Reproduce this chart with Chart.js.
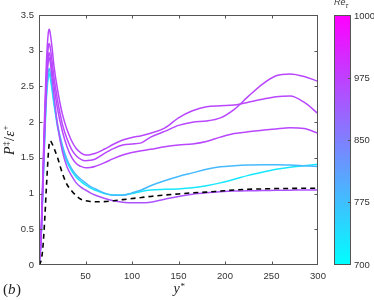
<!DOCTYPE html>
<html><head><meta charset="utf-8">
<script src="https://cdn.jsdelivr.net/npm/chart.js@4"></script>
<style>html,body{margin:0;padding:0;background:#fff}#wrap{width:374px;height:300px;position:relative}</style>
</head><body><div id="wrap"><canvas id="c"></canvas></div>
<script>
// ---------------- data ----------------
const yStar = [0,2,4,6,8,10,11,12,14,16,20,25,30,35,40,45,50,55,60,70,80,90,100,110,120,135,150,165,180,195,210,225,240,255,270,285,300];

const dnsRef = [0,0.05,0.22,0.6,1.1,1.55,1.7,1.74,1.7,1.64,1.5,1.29,1.13,1.04,0.97,0.92,0.9,0.89,0.885,0.887,0.9,0.915,0.93,0.945,0.96,0.98,0.995,1.01,1.02,1.035,1.05,1.06,1.065,1.07,1.072,1.074,1.075];

const caseB = [0,0.35,1.2,2.1,2.85,3.25,3.3,3.25,3.05,2.8,2.45,2.12,1.9,1.74,1.63,1.57,1.54,1.545,1.56,1.62,1.69,1.75,1.785,1.81,1.845,1.915,2.06,2.16,2.215,2.23,2.24,2.28,2.32,2.355,2.365,2.28,2.12];
const caseC = [0,0.33,1.13,1.98,2.68,3.05,3.1,3.05,2.86,2.64,2.3,1.98,1.77,1.62,1.53,1.48,1.46,1.465,1.48,1.56,1.63,1.68,1.695,1.71,1.79,1.87,1.955,2.0,2.015,2.06,2.18,2.36,2.53,2.65,2.675,2.64,2.57];
const caseD = [0,0.32,1.08,1.9,2.58,2.92,2.97,2.92,2.73,2.52,2.18,1.88,1.66,1.51,1.42,1.38,1.36,1.365,1.38,1.43,1.49,1.54,1.575,1.6,1.62,1.655,1.68,1.695,1.73,1.79,1.84,1.865,1.885,1.905,1.92,1.91,1.845];
const caseG = [0,0.31,1.04,1.84,2.5,2.85,2.9,2.85,2.62,2.38,1.95,1.6,1.38,1.25,1.15,1.09,1.05,1.01,0.98,0.935,0.9,0.88,0.87,0.87,0.88,0.92,0.96,0.99,1.01,1.025,1.035,1.04,1.042,1.045,1.047,1.05,1.05];
const caseE = [0,0.3,1.0,1.75,2.4,2.7,2.75,2.7,2.5,2.3,1.96,1.68,1.48,1.35,1.26,1.2,1.15,1.1,1.07,1.01,0.975,0.975,1.01,1.05,1.11,1.18,1.24,1.29,1.34,1.375,1.39,1.4,1.405,1.405,1.4,1.39,1.38];
const caseF = [0,0.29,0.97,1.7,2.33,2.63,2.68,2.63,2.45,2.26,1.93,1.65,1.45,1.32,1.23,1.17,1.12,1.08,1.05,1.0,0.98,0.98,1.0,1.03,1.05,1.06,1.065,1.08,1.11,1.15,1.2,1.255,1.3,1.34,1.37,1.39,1.41];

const xTicks = [0,50,100,150,200,250,300];
const yTicks = [0,0.5,1,1.5,2,2.5,3,3.5];
const cbarLabels = ['700','775','850','975','1000'];

// ---------------- styling helpers ----------------
function cool(f){ return 'rgb(' + Math.round(255*f) + ',' + Math.round(255*(1-f)) + ',255)'; }
const cases = [caseB, caseC, caseD, caseG, caseE, caseF];
const caseColors = [cool(0.72), cool(0.72), cool(0.72), cool(0.68), cool(0.27), cool(0.09)];

function pts(vals){ return yStar.map((x,i)=>({x:x, y:vals[i]})); }

const datasets = [{
  data: pts(dnsRef), borderColor:'#000', borderWidth:1.6, borderDash:[5,4],
  pointRadius:0, fill:false, cubicInterpolationMode:'monotone'
}];
cases.forEach((c,i)=>datasets.push({
  data: pts(c), borderColor: caseColors[i], borderWidth:1.5,
  pointRadius:0, fill:false, cubicInterpolationMode:'monotone'
}));

const AX = '#555';
const TXT = '#333';
const tickFont = {family:'"Liberation Sans", Arial, sans-serif', size:9.5};

const framePlugin = {
  id:'frame',
  afterDatasetsDraw(chart){
    const {ctx, chartArea:a, scales:{x,y}} = chart;
    const L=Math.round(a.left)+0.5, R=Math.round(a.right)-0.5, T=Math.round(a.top)+0.5, B=Math.round(a.bottom)-0.5;
    ctx.save();
    ctx.strokeStyle=AX; ctx.lineWidth=1;
    ctx.strokeRect(L,T,R-L,B-T);
    ctx.beginPath();
    xTicks.forEach(v=>{
      if(v<=x.min||v>=x.max) return;
      const px=Math.round(x.getPixelForValue(v))+0.5;
      ctx.moveTo(px,B); ctx.lineTo(px,B-3);
      ctx.moveTo(px,T); ctx.lineTo(px,T+3);
    });
    yTicks.forEach(v=>{
      if(v<=y.min||v>=y.max) return;
      const py=Math.round(y.getPixelForValue(v))+0.5;
      ctx.moveTo(L,py); ctx.lineTo(L+3,py);
      ctx.moveTo(R,py); ctx.lineTo(R-3,py);
    });
    ctx.stroke();
    ctx.restore();
  },
  afterDraw(chart){
    const {ctx, chartArea:a} = chart;
    ctx.save();
    // colorbar
    const cx=334.5, cw=16, top=Math.round(a.top)+0.5, bot=Math.round(a.bottom)-0.5;
    const g=ctx.createLinearGradient(0,bot,0,top);
    g.addColorStop(0,'#00ffff'); g.addColorStop(1,'#ff00ff');
    ctx.fillStyle=g; ctx.fillRect(cx,top,cw,bot-top);
    ctx.strokeStyle=AX; ctx.lineWidth=1; ctx.strokeRect(cx,top,cw,bot-top);
    ctx.fillStyle=TXT; ctx.font='9.5px "Liberation Sans", Arial, sans-serif';
    ctx.textAlign='left'; ctx.textBaseline='middle';
    ctx.beginPath();
    cbarLabels.forEach((lab,i)=>{
      const f=i/(cbarLabels.length-1);
      const py=Math.round(bot-(bot-top)*f)+0.5;
      if(i>0 && i<cbarLabels.length-1){ ctx.moveTo(cx+cw,py); ctx.lineTo(cx+cw-2.5,py); }
      ctx.fillText(lab, 354, py);
    });
    ctx.stroke();
    // colorbar title
    ctx.textBaseline='alphabetic';
    ctx.font='italic 9px "Liberation Sans", Arial, sans-serif';
    ctx.fillText('Re', 334, 5);
    const wRe=ctx.measureText('Re').width;
    ctx.font='italic 7px "Liberation Sans", Arial, sans-serif';
    ctx.fillText('τ', 334+wRe, 8);

    // x label y*
    ctx.fillStyle='#222';
    ctx.font='italic 14px "Liberation Serif", "DejaVu Serif", serif';
    const cxm=(a.left+a.right)/2;
    const wy=ctx.measureText('y').width;
    ctx.fillText('y', cxm-wy/2-2, 293);
    ctx.font='9px "Liberation Serif", "DejaVu Serif", serif';
    ctx.fillText('*', cxm+wy/2-1, 289);

    // (b)
    ctx.font='15px "Liberation Serif", "DejaVu Serif", serif';
    ctx.fillText('(', 3, 294);
    let xx=3+ctx.measureText('(').width;
    ctx.font='italic 15px "Liberation Serif", "DejaVu Serif", serif';
    ctx.fillText('b', xx, 294);
    xx+=ctx.measureText('b').width+0.5;
    ctx.font='15px "Liberation Serif", "DejaVu Serif", serif';
    ctx.fillText(')', xx, 294);

    // y label P‡/ε+
    ctx.translate(14, 140);
    ctx.rotate(-Math.PI/2);
    const parts=[
      {t:'P', f:'italic 14px', dy:0},
      {t:'‡', f:'9px', dy:-5},
      {t:'/', f:'14px', dy:0},
      {t:'ε', f:'italic 14px', dy:0},
      {t:'+', f:'9px', dy:-6}
    ];
    let tot=0;
    parts.forEach(p=>{ctx.font=p.f+' "Liberation Serif", "DejaVu Serif", serif'; p.w=ctx.measureText(p.t).width; tot+=p.w+0.5;});
    let px=-tot/2;
    parts.forEach(p=>{ctx.font=p.f+' "Liberation Serif", "DejaVu Serif", serif'; ctx.fillText(p.t,px,p.dy); px+=p.w+0.5;});
    ctx.restore();
  }
};

new Chart(document.getElementById('c'), {
  type:'line',
  data:{datasets},
  options:{
    responsive:true, maintainAspectRatio:false, animation:false,
    layout:{padding:{left:0, top:15, right:56, bottom:0}},
    plugins:{legend:{display:false}, tooltip:{enabled:false}},
    scales:{
      x:{type:'linear', min:0, max:300,
         afterBuildTicks:(s)=>{s.ticks=xTicks.map(v=>({value:v}));},
         ticks:{color:TXT, font:tickFont, padding:6, maxRotation:0, callback:(v)=> v===0?'':String(v)},
         grid:{display:false, drawTicks:false}, border:{display:false},
         afterFit:(s)=>{s.height=35;}},
      y:{type:'linear', min:0, max:3.5,
         afterBuildTicks:(s)=>{s.ticks=yTicks.map(v=>({value:v}));},
         ticks:{color:TXT, font:tickFont, padding:5, callback:(v)=>String(v)},
         grid:{display:false, drawTicks:false}, border:{display:false},
         afterFit:(s)=>{s.width=39;}}
    }
  },
  plugins:[framePlugin]
});
</script>
</body></html>
